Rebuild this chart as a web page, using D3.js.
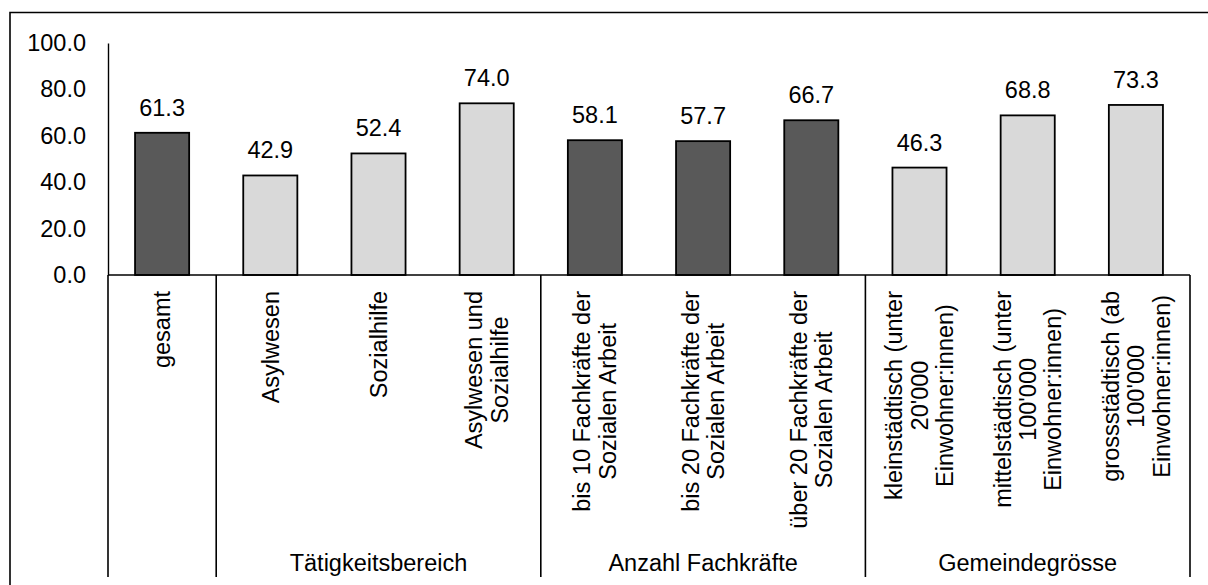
<!DOCTYPE html>
<html>
<head>
<meta charset="utf-8">
<script src="https://cdn.jsdelivr.net/npm/d3@7"></script>
<style>
  html, body { margin: 0; padding: 0; background: #fff; }
  svg { display: block; font-family: "Liberation Sans", Arial, sans-serif; }
</style>
</head>
<body>
<svg id="chart" width="1208" height="585"></svg>
<script>
// Kategorien (mehrzeilige Beschriftungen), Werte und Gruppen
const categories = [
  ["gesamt"],
  ["Asylwesen"],
  ["Sozialhilfe"],
  ["Asylwesen und", "Sozialhilfe"],
  ["bis 10 Fachkräfte der", "Sozialen Arbeit"],
  ["bis 20 Fachkräfte der", "Sozialen Arbeit"],
  ["über 20 Fachkräfte der", "Sozialen Arbeit"],
  ["kleinstädtisch (unter", "20'000", "Einwohner:innen)"],
  ["mittelstädtisch (unter", "100'000", "Einwohner:innen)"],
  ["grossstädtisch (ab", "100'000", "Einwohner:innen)"]
];
const values = [61.3, 42.9, 52.4, 74.0, 58.1, 57.7, 66.7, 46.3, 68.8, 73.3];
const shades = ["dark", "light", "light", "light", "dark", "dark", "dark", "light", "light", "light"];
const groupNames = ["", "Tätigkeitsbereich", "Anzahl Fachkräfte", "Gemeindegrösse"];
const groupSizes = [1, 3, 3, 3];
const yTicks = [0, 20, 40, 60, 80, 100];

const svg = d3.select("#chart");
const FONT = 23.5;
const fill = { dark: "#595959", light: "#d9d9d9" };

const left = 108, right = 1190, zeroY = 275, topY = 43, axisBottom = 577;

const x = d3.scaleBand().domain(d3.range(categories.length)).range([left, right]).paddingInner(0.5).paddingOuter(0.25);
const step = x.step();
const y = d3.scaleLinear().domain([0, 100]).range([zeroY, topY]);

// Rahmen
svg.append("path")
  .attr("d", `M10,585 L10,12.5 L1208,12.5`)
  .attr("fill", "none").attr("stroke", "#000").attr("stroke-width", 1.6);

// Y-Achse
const yAxis = svg.append("g").attr("transform", `translate(${left},0)`)
  .call(d3.axisLeft(y).tickValues(yTicks).tickSize(0).tickPadding(22).tickFormat(d3.format(".1f")));
yAxis.select(".domain").attr("stroke", "#000").attr("stroke-width", 1.4);
yAxis.selectAll("text").attr("font-size", FONT).attr("font-family", "Liberation Sans, Arial, sans-serif").attr("fill", "#000");

// Balken
svg.append("g").selectAll("rect").data(values).join("rect")
  .attr("x", (d, i) => x(i))
  .attr("y", d => y(d))
  .attr("width", x.bandwidth())
  .attr("height", d => y(0) - y(d))
  .attr("fill", (d, i) => fill[shades[i]])
  .attr("stroke", "#000").attr("stroke-width", 1.8);

// Werte über den Balken
svg.append("g").selectAll("text").data(values).join("text")
  .attr("x", (d, i) => x(i) + x.bandwidth() / 2)
  .attr("y", d => y(d) - 17)
  .attr("text-anchor", "middle")
  .attr("font-size", FONT)
  .text(d => d3.format(".1f")(d));

// Nulllinie / Kategorienachse
svg.append("line").attr("x1", left).attr("x2", right).attr("y1", zeroY).attr("y2", zeroY)
  .attr("stroke", "#000").attr("stroke-width", 1.6);

// Gruppentrennlinien
const bounds = [0];
groupSizes.forEach(s => bounds.push(bounds[bounds.length - 1] + s));
svg.append("g").selectAll("line").data(bounds).join("line")
  .attr("x1", b => left + b * step).attr("x2", b => left + b * step)
  .attr("y1", zeroY).attr("y2", axisBottom)
  .attr("stroke", "#000").attr("stroke-width", 1.6);

// Gruppenbeschriftungen
svg.append("g").selectAll("text").data(groupNames).join("text")
  .attr("x", (g, i) => left + (bounds[i] + bounds[i + 1]) / 2 * step)
  .attr("y", 571)
  .attr("text-anchor", "middle")
  .attr("font-size", FONT)
  .text(g => g);

// Gedrehte Kategorienbeschriftungen
const labelTop = 291, lineH = 25.5;
categories.forEach((lines, i) => {
  const cx = x(i) + x.bandwidth() / 2;
  const g = svg.append("g").attr("transform", `translate(${cx},${labelTop}) rotate(-90)`);
  const texts = g.selectAll("text").data(lines).join("text")
    .attr("font-size", FONT)
    .attr("text-anchor", "middle")
    .attr("y", (t, k) => (k - (lines.length - 1) / 2) * lineH + 8.3)
    .text(t => t);
  let maxW = 0;
  texts.each(function () { maxW = Math.max(maxW, this.getComputedTextLength()); });
  texts.attr("x", -maxW / 2);
});
</script>
</body>
</html>
